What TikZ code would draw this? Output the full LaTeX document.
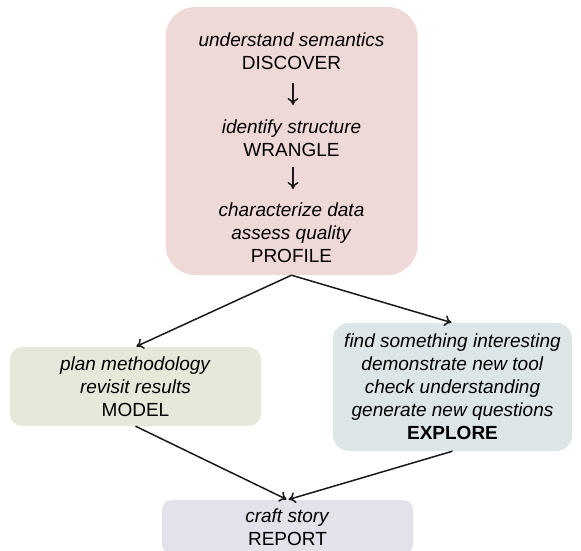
\documentclass[tikz,border=0pt]{standalone}
\usepackage{fontspec}
\setmainfont{Liberation Sans}
\usetikzlibrary{arrows.meta}
\definecolor{pinkbox}{HTML}{EFD9D6}
\definecolor{modelbox}{HTML}{E8E8DA}
\definecolor{explorebox}{HTML}{DCE5E8}
\definecolor{reportbox}{HTML}{E3E1E9}
\tikzset{
  box/.style={draw=none, rectangle, align=center, inner sep=0pt, font=\fontsize{19}{23}\selectfont},
  txt/.style={align=center, inner sep=2pt, font=\fontsize{19}{23}\selectfont},
  conn/.style={line width=1.5pt, color=black!90, -{To[length=7pt,width=11pt]}, shorten >=1pt}
}
\begin{document}
\begin{tikzpicture}[x=1pt,y=1pt]
\useasboundingbox (0,0) rectangle (581,-550);
\begin{scope}
\clip (0,0) rectangle (581,-550);
\node[box, fill=pinkbox, rounded corners=30pt, minimum width=252pt, minimum height=268pt] (top) at (291.5,-141) {};
\node[box, fill=modelbox, rounded corners=12pt, minimum width=251pt, minimum height=79pt] (model) at (135.5,-386.5)
  {\textit{plan methodology}\\\textit{revisit results}\\MODEL};
\node[box, fill=explorebox, rounded corners=16pt, minimum width=239pt, minimum height=128pt] (explore) at (452.5,-387)
  {\textit{find something interesting}\\\textit{demonstrate new tool}\\\textit{check understanding}\\\textit{generate new questions}\\\textbf{EXPLORE}};
\node[box, fill=reportbox, rounded corners=10pt, minimum width=251pt, minimum height=54pt] (report) at (287.5,-527)
  {\textit{craft story}\\REPORT};
\end{scope}
\node[txt] (discover) at (291.5,-51.5) {\textit{understand semantics}\\DISCOVER};
\node[txt] (wrangle) at (291.5,-138.5) {\textit{identify structure}\\WRANGLE};
\node[txt] (profile) at (291.5,-233) {\textit{characterize data}\\\textit{assess quality}\\PROFILE};
\coordinate (d1) at (293,-83);
\coordinate (d2) at (293,-106);
\coordinate (w1) at (293,-167);
\coordinate (w2) at (293,-190);
\draw[conn] (d1) -- (d2);
\draw[conn] (w1) -- (w2);
\draw[conn] (top.south) -- (model.north);
\draw[conn] (top.south) -- (explore.north);
\draw[conn] (model.south) -- (report.north);
\draw[conn] (explore.south) -- (report.north);
\end{tikzpicture}
\end{document}
